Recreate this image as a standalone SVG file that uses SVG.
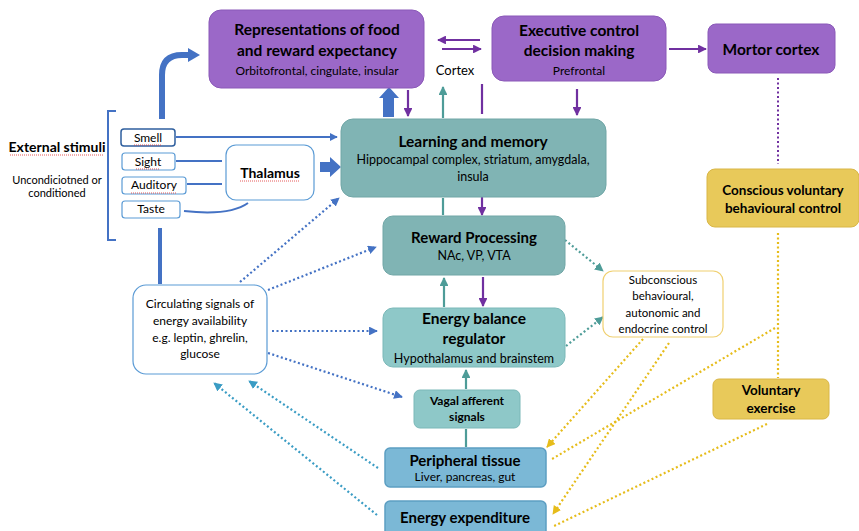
<svg xmlns="http://www.w3.org/2000/svg" width="859" height="531" viewBox="0 0 859 531">
<defs>
<style>
text{font-family:Lato,"Liberation Sans",sans-serif;fill:#000;text-anchor:middle}
.b{font-weight:bold}
.purple{fill:#9b68c8;stroke:#8a58b8;stroke-width:1}
.teal{fill:#80b4b4;stroke:#70a6a6;stroke-width:1}
.lteal{fill:#8ec8c8;stroke:#7ab8b8;stroke-width:1}
.blue{fill:#7bb8d6;stroke:#5c9ec2;stroke-width:1.5}
.yellow{fill:#e8c95a;stroke:#d9b646;stroke-width:1}
.wbox{fill:#fff;stroke:#5b9bd5;stroke-width:1.2}
.ybox{fill:#fff;stroke:#f0d070;stroke-width:1.2}
.sp{stroke:#7030a0;stroke-width:2.2;fill:none}
.st{stroke:#4e9c98;stroke-width:2.2;fill:none}
.sb{stroke:#4472c4;stroke-width:2;fill:none}
.db{stroke:#4472c4;stroke-width:2.2;fill:none;stroke-dasharray:2 2.5}
.dc{stroke:#3a9cc4;stroke-width:2.2;fill:none;stroke-dasharray:2 2.5}
.dt{stroke:#4e9c98;stroke-width:2.2;fill:none;stroke-dasharray:2 2.5}
.dy{stroke:#e6bc1a;stroke-width:2.2;fill:none;stroke-dasharray:2 2.5}
.dpu{stroke:#7030a0;stroke-width:2;fill:none;stroke-dasharray:2 2.5}
.wavy{stroke:#e03030;stroke-width:0.8;fill:none;stroke-dasharray:1 1}
</style>
<marker id="mp" viewBox="0 0 10 10" refX="9" refY="5" markerWidth="4" markerHeight="4" orient="auto" markerUnits="strokeWidth"><path d="M0 0L10 5L0 10z" fill="#7030a0"/></marker>
<marker id="mt" viewBox="0 0 10 10" refX="9" refY="5" markerWidth="4" markerHeight="4" orient="auto" markerUnits="strokeWidth"><path d="M0 0L10 5L0 10z" fill="#4e9c98"/></marker>
<marker id="mb" viewBox="0 0 10 10" refX="9" refY="5" markerWidth="4" markerHeight="4" orient="auto" markerUnits="strokeWidth"><path d="M0 0L10 5L0 10z" fill="#4472c4"/></marker>
<marker id="mc" viewBox="0 0 10 10" refX="9" refY="5" markerWidth="4" markerHeight="4" orient="auto" markerUnits="strokeWidth"><path d="M0 0L10 5L0 10z" fill="#3a9cc4"/></marker>
<marker id="my" viewBox="0 0 10 10" refX="9" refY="5" markerWidth="4" markerHeight="4" orient="auto" markerUnits="strokeWidth"><path d="M0 0L10 5L0 10z" fill="#e6bc1a"/></marker>
</defs>
<rect width="859" height="531" fill="#fff"/>

<g id="connectors">
<!-- cortex arrows -->
<line class="sp" x1="480" y1="40" x2="438" y2="40" marker-end="url(#mp)"/>
<line class="sp" x1="442" y1="49" x2="481" y2="49" marker-end="url(#mp)"/>
<line class="sp" x1="669" y1="49" x2="706" y2="49" marker-end="url(#mp)"/>
<line class="dpu" x1="778" y1="78" x2="778" y2="164"/>
<line class="dy" x1="778" y1="233" x2="778" y2="378"/>
<!-- between cortex and learning -->
<path d="M383 117V98H379L389 87L399 98H394V117Z" fill="#4472c4"/>
<line class="sp" x1="408" y1="90" x2="408" y2="116" marker-end="url(#mp)"/>
<line class="st" x1="443" y1="118" x2="443" y2="87" marker-end="url(#mt)"/>
<line class="sp" x1="482" y1="84" x2="482" y2="114"/>
<line class="sp" x1="577" y1="89" x2="577" y2="115" marker-end="url(#mp)"/>
<!-- learning / reward -->
<line class="st" x1="443" y1="198" x2="443" y2="215"/>
<line class="sp" x1="482" y1="197" x2="482" y2="215" marker-end="url(#mp)"/>
<line class="st" x1="444" y1="307" x2="444" y2="278" marker-end="url(#mt)"/>
<line class="sp" x1="483" y1="277" x2="483" y2="306" marker-end="url(#mp)"/>
<line class="st" x1="466" y1="389" x2="466" y2="370" marker-end="url(#mt)"/>
<line class="st" x1="466" y1="447" x2="466" y2="429"/>
<!-- stimuli -->
<path class="sb" d="M116 111H108V240H116"/>
<path d="M162 119V75Q162 55 182 55H189" stroke="#4472c4" stroke-width="6" fill="none"/>
<path d="M188 48L200 55L188 62Z" fill="#4472c4"/>
<line class="sb" x1="176" y1="137" x2="337" y2="137" marker-end="url(#mb)"/>
<line class="sb" x1="176" y1="161" x2="222" y2="161"/>
<line class="sb" x1="187" y1="184" x2="222" y2="184"/>
<path class="sb" d="M184 211Q230 216 248 203"/>
<path d="M320 162H330V157L341 167L330 177V172H320Z" fill="#4472c4"/>
<line x1="160" y1="228" x2="160" y2="284" stroke="#4472c4" stroke-width="4"/>
<!-- circulating dotted -->
<line class="db" x1="240" y1="282" x2="339" y2="198" marker-end="url(#mb)"/>
<line class="db" x1="268" y1="290" x2="376" y2="247" marker-end="url(#mb)"/>
<line class="db" x1="272" y1="331" x2="377" y2="331" marker-end="url(#mb)"/>
<line class="db" x1="268" y1="353" x2="402" y2="397" marker-end="url(#mb)"/>
<line class="dc" x1="378" y1="468" x2="249" y2="381" marker-end="url(#mc)"/>
<line class="dc" x1="377" y1="515" x2="214" y2="383" marker-end="url(#mc)"/>
<!-- to subconscious -->
<line class="dt" x1="565" y1="240" x2="603" y2="271" marker-end="url(#mt)"/>
<line class="dt" x1="566" y1="346" x2="603" y2="317" marker-end="url(#mt)"/>
<!-- yellow -->
<line class="dy" x1="643" y1="339" x2="547" y2="447" marker-end="url(#my)"/>
<line class="dy" x1="669" y1="343" x2="553" y2="514" marker-end="url(#my)"/>
<line class="dy" x1="775" y1="328" x2="552" y2="459"/>
<line class="dy" x1="767" y1="424" x2="552" y2="527"/>
</g>

<g id="node-representations">
<rect class="purple" x="209" y="10" width="215" height="78" rx="12"/>
<text class="b" x="317" y="35" font-size="15.5">Representations of food</text>
<text class="b" x="317" y="56" font-size="15.5">and reward expectancy</text>
<text x="317" y="75" font-size="12">Orbitofrontal, cingulate, insular</text>
</g>
<g id="node-cortex-label">
<text x="455" y="75" font-size="13">Cortex</text>
</g>
<g id="node-executive">
<rect class="purple" x="492" y="16" width="174" height="65" rx="12"/>
<text class="b" x="579" y="36" font-size="15.5">Executive control</text>
<text class="b" x="579" y="56" font-size="15.5">decision making</text>
<text x="579" y="75" font-size="12">Prefrontal</text>
</g>
<g id="node-motor">
<rect class="purple" x="708" y="24" width="127" height="49" rx="8"/>
<text class="b" x="771" y="55" font-size="15.5">Mortor cortex</text>
</g>
<g id="node-conscious">
<rect class="yellow" x="707" y="169" width="152" height="58" rx="8"/>
<text class="b" x="783" y="195" font-size="13.5">Conscious voluntary</text>
<text class="b" x="783" y="213" font-size="13.5">behavioural control</text>
</g>
<g id="node-exercise">
<rect class="yellow" x="713" y="379" width="116" height="40" rx="6"/>
<text class="b" x="771" y="395" font-size="13.5">Voluntary</text>
<text class="b" x="771" y="413" font-size="13.5">exercise</text>
</g>
<g id="node-learning">
<rect class="teal" x="341" y="119" width="265" height="78" rx="12"/>
<text class="b" x="473" y="147" font-size="15.5">Learning and memory</text>
<text x="473" y="164" font-size="12.5">Hippocampal complex, striatum, amygdala,</text>
<text x="473" y="181" font-size="12.5">insula</text>
</g>
<g id="node-reward">
<rect class="teal" x="383" y="216" width="182" height="59" rx="10"/>
<text class="b" x="474" y="243" font-size="15">Reward Processing</text>
<text x="474" y="260" font-size="12.5">NAc, VP, VTA</text>
</g>
<g id="node-energy-balance">
<rect class="lteal" x="383" y="308" width="182" height="59" rx="10"/>
<text class="b" x="474" y="324" font-size="15.5">Energy balance</text>
<text class="b" x="474" y="344" font-size="15.5">regulator</text>
<text x="474" y="363" font-size="12.5">Hypothalamus and brainstem</text>
</g>
<g id="node-vagal">
<rect class="lteal" x="414" y="390" width="106" height="38" rx="6"/>
<text class="b" x="467" y="405" font-size="12">Vagal afferent</text>
<text class="b" x="467" y="421" font-size="12">signals</text>
</g>
<g id="node-peripheral">
<rect class="blue" x="385" y="448" width="161" height="39" rx="5"/>
<text class="b" x="465" y="466" font-size="15">Peripheral tissue</text>
<text x="465" y="481" font-size="12">Liver, pancreas, gut</text>
</g>
<g id="node-expenditure">
<rect class="blue" x="385" y="501" width="161" height="40" rx="5"/>
<text class="b" x="465" y="523" font-size="15">Energy expenditure</text>
</g>
<g id="node-subconscious">
<rect class="ybox" x="603" y="271" width="120" height="66" rx="10"/>
<text x="663" y="284" font-size="11.5">Subconscious</text>
<text x="663" y="300" font-size="11.5">behavioural,</text>
<text x="663" y="317" font-size="11.5">autonomic and</text>
<text x="663" y="333" font-size="11.5">endocrine control</text>
</g>
<g id="node-circulating">
<rect class="wbox" x="133" y="285" width="134" height="89" rx="13"/>
<text x="200" y="308" font-size="12">Circulating signals of</text>
<text x="200" y="325" font-size="12">energy availability</text>
<text x="200" y="342" font-size="12">e.g. leptin, ghrelin,</text>
<text x="200" y="358" font-size="12">glucose</text>
</g>
<g id="node-external">
<text class="b" x="57" y="152" font-size="14">External stimuli</text>
<path class="wavy" d="M10 155H104"/>
<text x="57" y="184" font-size="11">Uncondiciotned or</text>
<text x="57" y="197" font-size="11">conditioned</text>
</g>
<g id="node-smell">
<rect x="121" y="129" width="54" height="17" rx="3" fill="#fff" stroke="#2f5f9e" stroke-width="1.5"/>
<text x="148" y="142" font-size="12">Smell</text>
<path class="wavy" d="M134 145H162"/>
</g>
<g id="node-sight">
<rect class="wbox" x="122" y="153" width="53" height="17" rx="3"/>
<text x="148" y="166" font-size="12">Sight</text>
<path class="wavy" d="M136 169H160"/>
</g>
<g id="node-auditory">
<rect class="wbox" x="122" y="177" width="64" height="17" rx="3"/>
<text x="154" y="189" font-size="12">Auditory</text>
<path class="wavy" d="M131 193H177"/>
</g>
<g id="node-taste">
<rect class="wbox" x="122" y="201" width="58" height="17" rx="3"/>
<text x="151" y="213" font-size="12">Taste</text>
</g>
<g id="node-thalamus">
<rect class="wbox" x="226" y="145" width="88" height="55" rx="10"/>
<text class="b" x="270" y="178" font-size="14">Thalamus</text>
<path class="wavy" d="M240 181H300"/>
</g>
</svg>
